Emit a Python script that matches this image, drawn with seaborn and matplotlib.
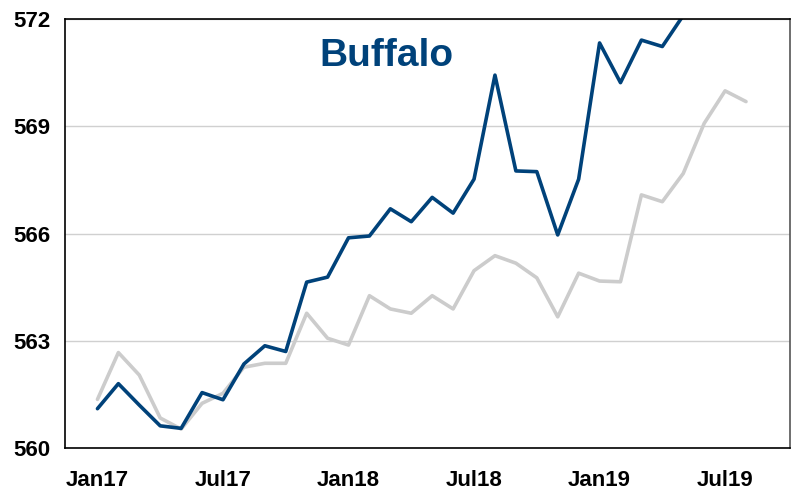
import pandas as pd
import matplotlib
matplotlib.use("Agg")
import matplotlib.pyplot as plt
import seaborn as sns

months = ["Jan17", "Feb17", "Mar17", "Apr17", "May17", "Jun17", "Jul17", "Aug17",
          "Sep17", "Oct17", "Nov17", "Dec17", "Jan18", "Feb18", "Mar18", "Apr18",
          "May18", "Jun18", "Jul18", "Aug18", "Sep18", "Oct18", "Nov18", "Dec18",
          "Jan19", "Feb19", "Mar19", "Apr19", "May19", "Jun19", "Jul19", "Aug19"]

buffalo = [561.1, 561.8, 561.2, 560.62, 560.55, 561.55, 561.35, 562.35,
           562.86, 562.7, 564.64, 564.78, 565.88, 565.93, 566.69, 566.33,
           567.01, 566.57, 567.52, 570.43, 567.75, 567.73, 565.96, 567.52,
           571.33, 570.22, 571.41, 571.23, 572.1]

gray = [561.36, 562.67, 562.04, 560.84, 560.53, 561.25, 561.53, 562.26,
        562.37, 562.37, 563.77, 563.07, 562.88, 564.26, 563.89, 563.77,
        564.26, 563.89, 564.96, 565.38, 565.17, 564.76, 563.67, 564.89,
        564.67, 564.65, 567.08, 566.89, 567.68, 569.08, 569.99, 569.69]

tick_pos = [0, 6, 12, 18, 24, 30]
tick_labels = [months[i] for i in tick_pos]

df_gray = pd.DataFrame({"t": range(len(gray)), "v": gray})
df_buf = pd.DataFrame({"t": range(len(buffalo)), "v": buffalo})

sns.set_style("white")
plt.rcParams["font.family"] = ["Liberation Sans", "DejaVu Sans"]

fig = plt.figure(figsize=(7.94, 4.92), dpi=100)
ax = fig.add_axes([0.0819, 0.0894, 0.913, 0.872])

sns.lineplot(data=df_gray, x="t", y="v", color="#cccccc", linewidth=2.6, ax=ax)
sns.lineplot(data=df_buf, x="t", y="v", color="#00427a", linewidth=2.6, ax=ax)

ax.set_ylim(560, 572)
ax.set_xlim(-1.55, 33.1)
ax.set_yticks([560, 563, 566, 569, 572])
ax.set_xticks(tick_pos)
ax.set_xticklabels(tick_labels)
ax.set_xlabel("")
ax.set_ylabel("")

ax.yaxis.grid(True, color="#d0d0d0", linewidth=1)
ax.set_axisbelow(True)

for side in ["left", "bottom", "top"]:
    ax.spines[side].set_color("black")
    ax.spines[side].set_linewidth(1.2)
ax.spines["right"].set_color("#555555")
ax.spines["right"].set_linewidth(1.2)

ax.tick_params(axis="both", which="major", direction="out", length=7, width=1,
               color="#444444", labelsize=16, labelcolor="black")
ax.tick_params(axis="x", pad=9)
for lab in ax.get_xticklabels() + ax.get_yticklabels():
    lab.set_fontweight("bold")

ax.text(0.443, 0.914, "Buffalo", transform=ax.transAxes, ha="center", va="center",
        fontsize=28, fontweight="bold", color="#00427a")

fig.savefig("out.png", dpi=100)
